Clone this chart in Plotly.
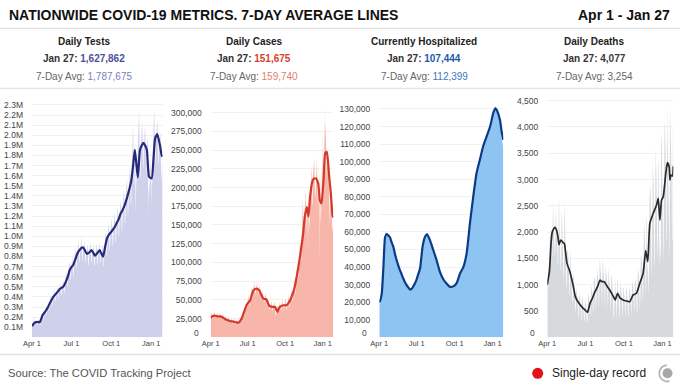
import numpy as np
import pandas as pd
import plotly.graph_objects as go

W, H = 680, 391
def px(x): return x / W
def py(y): return 1 - y / H

START = "2020-04-01"
N_DAYS = 302
dates = pd.date_range(START, periods=N_DAYS, freq="D")

# ---------------- DATA ----------------
# Daily tests (thousands), Apr 1 2020 .. Jan 27 2021 (one row per week)
tests_daily_k = [
    100, 115, 125, 200, 120, 110, 140,
    150, 160, 175, 150, 125, 120, 160,
    155, 165, 170, 150, 130, 125, 155,
    170, 200, 240, 230, 180, 170, 200,
    240, 260, 300, 260, 210, 230, 260,
    290, 310, 350, 320, 250, 270, 310,
    350, 380, 420, 380, 300, 320, 370,
    400, 430, 480, 430, 350, 360, 410,
    440, 470, 510, 460, 380, 390, 450,
    470, 500, 550, 500, 410, 420, 480,
    500, 540, 570, 520, 430, 440, 520,
    560, 600, 660, 600, 490, 510, 590,
    640, 690, 750, 690, 560, 580, 680,
    700, 740, 800, 720, 600, 630, 720,
    780, 830, 900, 810, 670, 700, 800,
    840, 900, 960, 880, 730, 760, 860,
    870, 930, 1000, 900, 750, 780, 890,
    860, 900, 960, 880, 730, 750, 860,
    830, 870, 930, 850, 700, 720, 830,
    850, 900, 950, 870, 720, 750, 860,
    830, 870, 920, 840, 700, 720, 820,
    840, 880, 940, 850, 710, 740, 840,
    850, 900, 950, 860, 720, 740, 850,
    800, 870, 920, 840, 690, 700, 880,
    930, 1000, 1060, 960, 800, 820, 940,
    1000, 1070, 1130, 1030, 860, 880, 1010,
    1050, 1110, 1180, 1070, 890, 920, 1050,
    1090, 1160, 1230, 1120, 930, 960, 1100,
    1150, 1230, 1300, 1180, 990, 1010, 1160,
    1220, 1300, 1380, 1250, 1040, 1070, 1240,
    1300, 1380, 1470, 1340, 1110, 1140, 1320,
    1400, 1490, 1580, 1440, 1200, 1230, 1420,
    1500, 1600, 1700, 1550, 1300, 1330, 1700,
    1750, 1950, 2100, 1850, 1500, 1550, 1800,
    1900, 1200, 1500, 1700, 1500, 1600, 1850,
    2000, 2100, 2250, 1950, 1550, 1600, 1850,
    1950, 2050, 2150, 2000, 1650, 1700, 1900,
    1900, 2050, 2100, 1950, 1600, 1650, 1900,
    1950, 2000, 1200, 1500, 1400, 1500, 1700,
    1800, 1600, 1300, 1600, 1500, 1700, 2000,
    2050, 2150, 2280, 2100, 1700, 1750, 1950,
    2000, 2100, 2150, 2000, 1700, 1750, 1950,
    1850, 1950, 2050, 1850, 1550, 1600, 1750,
    1628,
]
tests_avg_day = [0, 3, 8, 13, 18, 21, 25, 29, 33, 37, 41, 45, 49, 53, 56, 60, 64, 68, 72, 76,
                 80, 84, 87, 91, 95, 99, 103, 106, 111, 114, 118, 122, 127, 132, 137, 141, 145, 150, 156, 160,
                 164, 168, 173, 178, 183, 189, 195, 200, 204, 209, 214, 219, 224, 229, 233, 237, 240, 244, 249, 253,
                 257, 261, 265, 270, 276, 280, 284, 289, 295, 299, 301]
tests_avg_k = [110, 130, 150, 152, 150, 180, 225, 245, 270, 300, 336, 370, 400, 420, 435, 455, 478, 490, 500, 530,
               570, 620, 666, 695, 716, 760, 810, 841, 870, 885, 890, 860, 825, 840, 864, 840, 808, 830, 864, 830,
               798, 880, 980, 1020, 1045, 1080, 1128, 1170, 1220, 1260, 1310, 1380, 1458, 1550, 1690, 1855, 1750, 1583, 1855, 1900,
               1926, 1900, 1855, 1590, 1573, 1750, 1969, 2012, 1903, 1804, 1788]

# Daily cases (thousands)
cases_daily_k = [
    25, 30, 33, 32, 27, 24, 26,
    30, 32, 35, 31, 27, 26, 27,
    28, 31, 33, 30, 27, 25, 26,
    28, 30, 33, 30, 26, 24, 26,
    27, 29, 31, 28, 25, 22, 25,
    24, 27, 29, 26, 22, 20, 23,
    22, 25, 27, 24, 20, 19, 21,
    21, 24, 25, 23, 19, 18, 20,
    20, 23, 25, 22, 18, 17, 20,
    20, 22, 24, 21, 18, 17, 19,
    21, 24, 27, 26, 22, 20, 24,
    27, 30, 34, 33, 29, 28, 33,
    37, 40, 46, 44, 38, 36, 43,
    50, 55, 57, 47, 42, 40, 50,
    60, 62, 68, 60, 50, 50, 58,
    66, 70, 75, 66, 57, 56, 62,
    68, 72, 74, 65, 57, 56, 60,
    65, 70, 68, 62, 52, 50, 55,
    56, 58, 62, 54, 46, 45, 49,
    54, 56, 60, 50, 42, 40, 46,
    46, 48, 50, 44, 36, 35, 40,
    43, 45, 49, 42, 35, 34, 38,
    42, 45, 49, 42, 35, 30, 27,
    33, 36, 43, 41, 34, 33, 39,
    40, 44, 47, 42, 35, 34, 38,
    43, 46, 50, 44, 36, 36, 40,
    44, 47, 52, 47, 35, 38, 42,
    48, 52, 56, 50, 41, 40, 46,
    53, 60, 65, 57, 48, 47, 52,
    62, 70, 80, 72, 58, 57, 65,
    78, 88, 98, 88, 75, 80, 90,
    102, 120, 128, 123, 100, 102, 135,
    140, 160, 184, 164, 130, 136, 160,
    170, 190, 195, 176, 142, 142, 172,
    180, 110, 205, 155, 143, 157, 180,
    200, 215, 228, 212, 175, 180, 215,
    220, 230, 240, 210, 185, 190, 200,
    225, 235, 240, 200, 175, 190, 200,
    200, 220, 95, 225, 150, 165, 185,
    230, 180, 280, 200, 190, 200, 310,
    250, 270, 290, 255, 215, 210, 230,
    230, 235, 240, 210, 180, 150, 170,
    185, 195, 190, 175, 140, 145, 150,
    151.7,
]
cases_avg_day = [0, 5, 10, 16, 22, 28, 35, 42, 49, 56, 63, 68, 72, 76, 80, 84, 88, 92, 97, 100,
                 105, 109, 113, 119, 124, 129, 134, 137, 141, 144, 149, 154, 158, 161, 164, 167, 170, 178, 186, 190,
                 195, 203, 207, 211, 215, 219, 223, 227, 231, 236, 240, 244, 250, 254, 259, 264, 268, 272, 277, 281,
                 285, 288, 291, 295, 299, 301]
cases_avg_k = [26, 28.5, 29, 28, 28, 27, 24.5, 22.7, 21.4, 21, 20, 19.6, 21.5, 25, 31, 37, 42.8, 46, 49.5, 55,
               62.8, 64.5, 65, 62.8, 57, 51.7, 51, 50.4, 45, 41.9, 41, 40.6, 40.6, 37, 33.9, 38, 40.6, 42.8, 42.8, 45,
               49.5, 60.6, 69, 80.7, 93, 107, 122, 138.6, 161, 174, 161, 187.7, 209, 212, 212, 205, 183, 178.7, 210, 245.6,
               247.8, 235, 214, 192, 163, 160]

# Currently hospitalized (thousands)
hosp_day = [0, 2, 6, 10, 14, 18, 22, 26, 30, 34, 38, 42, 46, 50, 54, 58, 62, 66, 70, 74,
            78, 82, 86, 90, 94, 99, 105, 111, 116, 123, 131, 139, 147, 155, 163, 171, 180, 188, 196, 204,
            212, 220, 228, 236, 244, 252, 260, 269, 277, 282, 286, 293, 297, 301]
hosp_avg_k = [20, 20.7, 25, 40, 57, 58.8, 58, 57, 54, 51.6, 47.5, 44, 41, 38.3, 36, 33.6, 31.5, 29.8, 28.5, 27.3,
              27.5, 28.8, 30.5, 32.6, 35.5, 39.3, 51.6, 57.3, 58.6, 55.3, 49.7, 44, 37.4, 33.2, 30.7, 28.8, 29, 31, 36.4, 40,
              47.8, 64.9, 80, 93.4, 101, 108.6, 114, 120, 128, 130.4, 129, 123.7, 117, 112.4]
hosp_daily_k = [20, 21.5, 26, 43, 59.5, 59.5, 58.5, 57, 54, 51.6, 47.5, 44, 41, 38.3, 36, 33.6, 31.5, 29.8, 28.5, 27.3,
                27.5, 28.8, 30.5, 32.6, 35.5, 39.3, 52, 58, 59.5, 55.3, 49.7, 44, 37.4, 33.2, 30.7, 28.8, 29, 31, 36.4, 40,
                47.8, 64.9, 80, 93.4, 101, 108.6, 114, 120.5, 129, 131.5, 129, 123, 114, 107.4]

# Daily deaths
deaths_daily = [
    950, 1100, 1250, 1350, 1250, 1400, 1850,
    1900, 2000, 2050, 1900, 1500, 1550, 2200,
    2550, 2200, 2050, 1900, 1550, 1600, 2450,
    2300, 2200, 2100, 1850, 1350, 1450, 2350,
    2700, 2150, 1950, 1600, 1250, 1300, 2300,
    2400, 2000, 1800, 1500, 1100, 1200, 2650,
    2100, 1900, 1650, 1300, 900, 1000, 1650,
    1650, 1550, 1400, 1150, 750, 850, 1700,
    1450, 1300, 1150, 950, 650, 700, 1300,
    1150, 1050, 950, 750, 480, 520, 950,
    900, 850, 750, 600, 350, 400, 850,
    820, 750, 650, 550, 300, 380, 800,
    750, 700, 600, 450, 280, 350, 750,
    700, 650, 550, 350, 250, 300, 700,
    850, 800, 750, 500, 400, 450, 900,
    1000, 950, 900, 800, 450, 550, 1100,
    1150, 1150, 1050, 900, 500, 650, 1250,
    1350, 1200, 1150, 1000, 550, 700, 1500,
    1450, 1300, 1250, 1050, 600, 550, 1400,
    1500, 1250, 1200, 1050, 600, 500, 1300,
    1350, 1200, 1150, 950, 550, 500, 1300,
    1250, 1100, 1050, 850, 450, 450, 1200,
    1200, 1100, 1000, 800, 450, 320, 500,
    1150, 1200, 900, 700, 350, 300, 1100,
    1100, 900, 850, 700, 350, 400, 1050,
    1000, 900, 850, 650, 350, 350, 950,
    950, 850, 800, 650, 350, 350, 900,
    950, 900, 800, 600, 400, 400, 800,
    950, 900, 850, 650, 400, 400, 900,
    1100, 1000, 950, 750, 450, 450, 1000,
    1100, 1050, 1000, 850, 450, 500, 1150,
    1350, 1200, 1200, 1000, 550, 650, 1400,
    1600, 1550, 1400, 1250, 650, 800, 1700,
    2200, 2000, 1900, 1500, 850, 950, 2250,
    2300, 1200, 1350, 1250, 800, 1100, 2600,
    2800, 2900, 2750, 2300, 1100, 1500, 2600,
    3400, 3100, 2900, 2400, 1300, 1500, 3000,
    3600, 3300, 3000, 2500, 1400, 1700, 3300,
    3400, 2300, 1300, 1800, 1400, 1700, 3700,
    3900, 3400, 2200, 2500, 1400, 2000, 3750,
    4000, 4100, 3700, 3300, 1800, 1900, 4400,
    3900, 4050, 3500, 3000, 1800, 1400, 4400,
    4000, 3800, 3600, 3100, 1900, 1800, 3900,
    4077,
]
deaths_avg_day = [0, 2, 5, 9, 12, 18, 22, 26, 28, 32, 38, 41, 44, 47, 54, 62, 67, 74, 82, 90,
                  96, 102, 107, 114, 120, 126, 130, 136, 141, 149, 158, 162, 168, 173, 181, 189, 197, 205, 213, 221,
                  229, 235, 240, 245, 253, 261, 265, 269, 273, 277, 283, 287, 291, 293, 295, 299, 301]
deaths_avg = [1000, 1100, 1250, 1790, 2010, 2091, 2041, 1882, 1760, 1850, 1800, 1775, 1597, 1407, 1248, 976, 773, 665, 583, 520,
              475, 646, 729, 868, 963, 1090, 1058, 1058, 995, 900, 773, 710, 837, 754, 710, 691, 678, 805, 837, 1027,
              1217, 1648, 1439, 2167, 2358, 2516, 2643, 2231, 2611, 2674, 3118, 3321, 3245, 2992, 3087, 3068, 3254]

# Tick labels
x_tick_dates = ["2020-04-01", "2020-07-01", "2020-10-01", "2021-01-01"]
x_tick_text = ["Apr 1", "Jul 1", "Oct 1", "Jan 1"]
tests_tick_k = [100, 200, 300, 400, 500, 600, 700, 800, 900, 1000, 1100, 1200,
                1300, 1400, 1500, 1600, 1700, 1800, 1900, 2000, 2100, 2200, 2300]
tests_tick_text = ["0.1M", "0.2M", "0.3M", "0.4M", "0.5M", "0.6M", "0.7M", "0.8M", "0.9M", "1.0M", "1.1M", "1.2M",
                   "1.3M", "1.4M", "1.5M", "1.6M", "1.7M", "1.8M", "1.9M", "2.0M", "2.1M", "2.2M", "2.3M"]
cases_tick_k = [25, 50, 75, 100, 125, 150, 175, 200, 225, 250, 275, 300]
cases_tick_text = ["25,000", "50,000", "75,000", "100,000", "125,000", "150,000", "175,000",
                   "200,000", "225,000", "250,000", "275,000", "300,000"]
hosp_tick_k = [10, 20, 30, 40, 50, 60, 70, 80, 90, 100, 110, 120, 130]
hosp_tick_text = ["10,000", "20,000", "30,000", "40,000", "50,000", "60,000", "70,000", "80,000",
                  "90,000", "100,000", "110,000", "120,000", "130,000"]
deaths_tick = [500, 1000, 1500, 2000, 2500, 3000, 3500, 4000, 4500]
deaths_tick_text = ["500", "1,000", "1,500", "2,000", "2,500", "3,000", "3,500", "4,000", "4,500"]

# Header text
panel_titles = ["Daily Tests", "Daily Cases", "Currently Hospitalized", "Daily Deaths"]
latest_values = ["1,627,862", "151,675", "107,444", "4,077"]
avg_values = ["1,787,675", "159,740", "112,399", "3,254"]

# ---------------- STYLE / LAYOUT ----------------
FONT = "Liberation Sans, Arial, Helvetica, sans-serif"
PLOT_TOP, PLOT_BOTTOM = 98, 337.3

panels = [
    dict(x0=32, x1=162.5, ymax=2369, bx=dates, by=tests_daily_k,
         lx=dates[tests_avg_day], ly=tests_avg_k, fill="#cfd0ea", line="#272a78", lw=2.2,
         tv=tests_tick_k, tt=tests_tick_text, zero=False, center=84,
         vcol="#4b4f9e", acol="#7b80c2"),
    dict(x0=210.7, x1=333.3, ymax=319.6, bx=dates, by=cases_daily_k,
         lx=dates[cases_avg_day], ly=cases_avg_k, fill="#f8b5aa", line="#d23a2a", lw=2.2,
         tv=cases_tick_k, tt=cases_tick_text, zero=True, center=254,
         vcol="#d8402a", acol="#e2806e"),
    dict(x0=379.3, x1=503.3, ymax=136.25, bx=dates[hosp_day], by=hosp_daily_k,
         lx=dates[hosp_day], ly=hosp_avg_k, fill="#8ec4f2", line="#0c3b85", lw=2.2,
         tv=hosp_tick_k, tt=hosp_tick_text, zero=True, center=424,
         vcol="#1e5aa6", acol="#3d79bf"),
    dict(x0=547.3, x1=673.3, ymax=4551, bx=dates, by=deaths_daily,
         lx=dates[deaths_avg_day], ly=deaths_avg, fill="#d6dadd", line="#2a2a2a", lw=1.7,
         tv=deaths_tick, tt=deaths_tick_text, zero=True, center=594,
         vcol="#3a3a3a", acol="#666666"),
]

fig = go.Figure()
layout = {}
annotations = []
shapes = []

for i, p in enumerate(panels, start=1):
    sfx = "" if i == 1 else str(i)
    xa, ya = "x" + sfx, "y" + sfx
    fig.add_trace(go.Scatter(x=p["bx"], y=p["by"], xaxis=xa, yaxis=ya, mode="lines",
                             line=dict(width=0, color=p["fill"]), fill="tozeroy",
                             fillcolor=p["fill"], hoverinfo="skip", showlegend=False))
    fig.add_trace(go.Scatter(x=p["lx"], y=p["ly"], xaxis=xa, yaxis=ya, mode="lines",
                             line=dict(width=p["lw"], color=p["line"], shape="spline", smoothing=0.5),
                             hoverinfo="skip", showlegend=False))
    layout["xaxis" + sfx] = dict(
        domain=[px(p["x0"]), px(p["x1"])], anchor=ya, automargin=False,
        range=[dates[0], dates[-1]], tickvals=x_tick_dates, ticktext=x_tick_text,
        showgrid=False, zeroline=False, showline=False, ticks="",
        tickfont=dict(size=7.5, color="#444", family=FONT), fixedrange=True)
    layout["yaxis" + sfx] = dict(
        domain=[py(PLOT_BOTTOM), py(PLOT_TOP)], anchor=xa, range=[0, p["ymax"]], automargin=False,
        tickvals=p["tv"], ticktext=p["tt"], showgrid=True, gridcolor="#f1f1f1", gridwidth=1,
        zeroline=False, showline=False, ticks="", ticklabelstandoff=8,
        tickfont=dict(size=8.5, color="#444", family=FONT), fixedrange=True)
    if p["zero"]:
        annotations.append(dict(x=px(p["x0"] - 10), y=py(PLOT_BOTTOM - 4), xref="paper", yref="paper",
                                text="0", showarrow=False, xanchor="right", yanchor="middle",
                                font=dict(size=8.5, color="#444", family=FONT)))
    k = i - 1
    annotations.append(dict(x=px(p["center"]), y=py(41), xref="paper", yref="paper",
                            text="<b>%s</b>" % panel_titles[k], showarrow=False,
                            xanchor="center", yanchor="middle",
                            font=dict(size=10, color="#222", family=FONT)))
    annotations.append(dict(x=px(p["center"]), y=py(58.5), xref="paper", yref="paper",
                            text="<b>Jan 27: <span style='color:%s'>%s</span></b>" % (p["vcol"], latest_values[k]),
                            showarrow=False, xanchor="center", yanchor="middle",
                            font=dict(size=10, color="#333", family=FONT)))
    annotations.append(dict(x=px(p["center"]), y=py(76), xref="paper", yref="paper",
                            text="7-Day Avg: <span style='color:%s'>%s</span>" % (p["acol"], avg_values[k]),
                            showarrow=False, xanchor="center", yanchor="middle",
                            font=dict(size=10, color="#666", family=FONT)))

# title row
annotations.append(dict(x=px(7), y=py(14.5), xref="paper", yref="paper",
                        text="<b>NATIONWIDE COVID-19 METRICS. 7-DAY AVERAGE LINES</b>",
                        showarrow=False, xanchor="left", yanchor="middle",
                        font=dict(size=14, color="#111", family=FONT)))
annotations.append(dict(x=px(672), y=py(14.5), xref="paper", yref="paper",
                        text="<b>Apr 1 - Jan 27</b>", showarrow=False, xanchor="right", yanchor="middle",
                        font=dict(size=14, color="#111", family=FONT)))
# footer
annotations.append(dict(x=px(6), y=py(373), xref="paper", yref="paper",
                        text="Source: The COVID Tracking Project", showarrow=False,
                        xanchor="left", yanchor="middle",
                        font=dict(size=11.2, color="#555", family=FONT)))
annotations.append(dict(x=px(550), y=py(373), xref="paper", yref="paper",
                        text="Single-day record", showarrow=False,
                        xanchor="left", yanchor="middle",
                        font=dict(size=12, color="#222", family=FONT)))

# separators
for yy, col, w in [(28.3, "#dcdcdc", 1), (88.3, "#dcdcdc", 1), (354.5, "#e3e3e3", 1.5)]:
    shapes.append(dict(type="line", xref="paper", yref="paper", x0=0, x1=1, y0=py(yy), y1=py(yy),
                       line=dict(color=col, width=w)))
# red record dot
r = 5.5
shapes.append(dict(type="circle", xref="paper", yref="paper",
                   x0=px(537.7 - r), x1=px(537.7 + r), y0=py(373.3 + r), y1=py(373.3 - r),
                   fillcolor="#e3121b", line=dict(width=0)))
# gray icon
cx, cy = 667.5, 373.3
r2 = 5
shapes.append(dict(type="circle", xref="paper", yref="paper",
                   x0=px(cx - r2), x1=px(cx + r2), y0=py(cy + r2), y1=py(cy - r2),
                   fillcolor="#a8a8a8", line=dict(width=0)))
ang = np.radians(np.linspace(95, 285, 30))
ra = 8.2
pts = ["%s%.5f,%.5f" % ("M" if j == 0 else "L", px(cx + ra * np.cos(a)), py(cy - ra * np.sin(a)))
       for j, a in enumerate(ang)]
shapes.append(dict(type="path", xref="paper", yref="paper", path=" ".join(pts),
                   line=dict(color="#b5b5b5", width=1.8)))

layout.update(dict(
    width=W, height=H, margin=dict(l=0, r=0, t=0, b=0, pad=0, autoexpand=False),
    paper_bgcolor="white", plot_bgcolor="white",
    font=dict(family=FONT), showlegend=False,
    annotations=annotations, shapes=shapes,
))
fig.update_layout(**layout)
fig.write_html("out.html", config={"displayModeBar": False, "staticPlot": False},
               post_script="document.body.style.margin='0';document.body.style.padding='0';")
